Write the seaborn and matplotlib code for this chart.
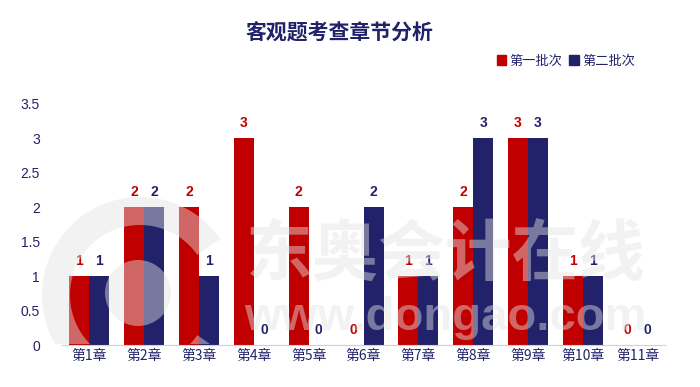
import pandas as pd
import numpy as np
import matplotlib.pyplot as plt
import seaborn as sns
from matplotlib.ticker import FuncFormatter
from matplotlib.patches import Wedge, Circle, Rectangle
from matplotlib.transforms import IdentityTransform

chapters = ["第1章", "第2章", "第3章", "第4章", "第5章", "第6章",
            "第7章", "第8章", "第9章", "第10章", "第11章"]
batch1 = [1, 2, 2, 3, 2, 0, 1, 2, 3, 1, 0]
batch2 = [1, 2, 1, 0, 0, 2, 1, 3, 3, 1, 0]
series_names = ["第一批次", "第二批次"]

red = "#C00000"
navy = "#22226A"

df = pd.DataFrame({
    "章节": chapters * 2,
    "数量": batch1 + batch2,
    "批次": [series_names[0]] * len(chapters) + [series_names[1]] * len(chapters),
})

sns.set_style("white")
plt.rcParams["font.family"] = ["Noto Sans CJK SC", "DejaVu Sans"]

fig = plt.figure(figsize=(7, 3.87), dpi=100)
ax = fig.add_axes([0.0886, 0.1085, 0.8614, 0.623])

sns.barplot(data=df, x="章节", y="数量", hue="批次",
            palette=[red, navy], width=0.73, saturation=1,
            linewidth=0, edgecolor="none", legend=False, ax=ax)

# data labels
for cont, col in zip(ax.containers, [red, navy]):
    ax.bar_label(cont, padding=6, color=col, fontsize=10, fontweight="bold",
                 family=["Liberation Sans", "DejaVu Sans"])

ax.set_ylim(0, 3.5)
ax.set_xlim(-0.5, len(chapters) - 0.5)
ax.set_yticks(np.arange(0, 3.51, 0.5))
ax.yaxis.set_major_formatter(FuncFormatter(lambda v, p: f"{v:g}"))
ax.set_xlabel("")
ax.set_ylabel("")
ax.tick_params(axis="both", length=0, labelsize=10, colors=navy)
ax.tick_params(axis="y", pad=16)
ax.tick_params(axis="x", pad=3)
for lab in ax.get_yticklabels():
    lab.set_family(["Liberation Sans", "DejaVu Sans"])
for s in ["top", "right", "left"]:
    ax.spines[s].set_visible(False)
ax.spines["bottom"].set_color("#D0D0D0")

# watermark (logo + text), logo kept above the x axis line
wm = "#E4E4E4"
clip = Rectangle((0, 43), 700, 344, transform=IdentityTransform())
ring = Wedge((140, 92), 98, 35, 325, width=28, transform=IdentityTransform(),
             facecolor=wm, edgecolor="none", alpha=0.45, zorder=5)
dot = Circle((138, 94), 33, transform=IdentityTransform(),
             facecolor=wm, edgecolor="none", alpha=0.45, zorder=5)
for p in (ring, dot):
    fig.add_artist(p)
    p.set_clip_path(clip)
fig.text(0.636, 0.341, "东奥会计在线", fontsize=48, fontweight="bold",
         color=wm, alpha=0.45, ha="center", va="center", zorder=5)
fig.text(0.636, 0.178, "www.dongao.com", fontsize=34, fontweight="bold",
         color=wm, alpha=0.45, ha="center", va="center", zorder=5,
         family=["Liberation Sans", "DejaVu Sans"])

fig.text(0.485, 0.915, "客观题考查章节分析", fontsize=15, fontweight="bold",
         color=navy, ha="center", va="center")

handles = [plt.Rectangle((0, 0), 1, 1, color=c) for c in [red, navy]]
fig.legend(handles, series_names, loc="center right", bbox_to_anchor=(0.925, 0.842),
           ncol=2, frameon=False, handlelength=0.7, handleheight=0.7,
           handletextpad=0.3, columnspacing=0.5, fontsize=9.5, labelcolor=navy)

plt.savefig("out.png", dpi=100)
